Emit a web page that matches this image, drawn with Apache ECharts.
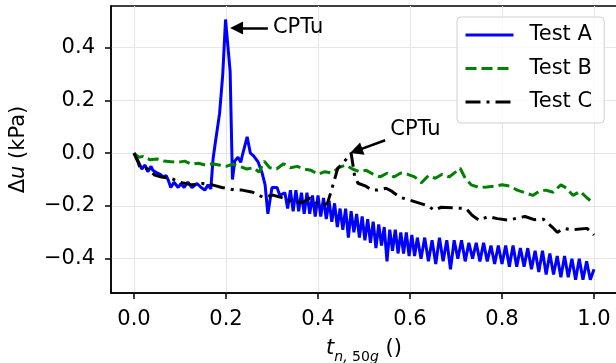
<!DOCTYPE html>
<html>
<head>
<meta charset="utf-8">
<script src="https://cdn.jsdelivr.net/npm/echarts@6/dist/echarts.min.js"></script>
<style>
  html, body { margin: 0; padding: 0; background: #fff; }
  #chart { width: 616px; height: 363px; }
</style>
</head>
<body>
<div id="chart"></div>
<script>
// tick positions
const xTicks = [0, 0.2, 0.4, 0.6, 0.8, 1.0];
const yTicks = [-0.4, -0.2, 0, 0.2, 0.4];

// Test A (blue, solid)
const testA_t = [0, 0.009, 0.017, 0.024, 0.030, 0.037, 0.041, 0.050, 0.057, 0.063, 0.070, 0.074, 0.080, 0.087, 0.096,
  0.102, 0.109, 0.117, 0.126, 0.137, 0.146, 0.154, 0.161, 0.167, 0.172, 0.176, 0.186, 0.193, 0.199, 0.203, 0.209,
  0.214, 0.219, 0.226, 0.232, 0.236, 0.246, 0.253, 0.260, 0.270, 0.278, 0.285, 0.291, 0.300, 0.311, 0.317, 0.328,
  0.334, 0.340, 0.346, 0.352, 0.358, 0.364, 0.370, 0.376, 0.382, 0.388, 0.394, 0.400, 0.406, 0.412, 0.418, 0.424,
  0.430, 0.436, 0.442, 0.448, 0.454, 0.460, 0.466, 0.472, 0.478, 0.484, 0.490, 0.496, 0.502, 0.508, 0.514, 0.520,
  0.526, 0.532, 0.538, 0.544, 0.550, 0.556, 0.562, 0.568, 0.574, 0.580, 0.586, 0.592, 0.598, 0.604, 0.610, 0.616,
  0.624, 0.632, 0.640, 0.648, 0.656, 0.664, 0.672, 0.680, 0.688, 0.696, 0.704, 0.712, 0.720, 0.728, 0.736, 0.744,
  0.752, 0.760, 0.768, 0.776, 0.784, 0.792, 0.800, 0.808, 0.816, 0.824, 0.832, 0.840, 0.848, 0.856, 0.864, 0.872,
  0.880, 0.888, 0.896, 0.904, 0.912, 0.920, 0.928, 0.936, 0.944, 0.952, 0.960, 0.968, 0.976, 0.984, 0.992, 1.000];
const testA_du = [0, -0.030, -0.060, -0.045, -0.070, -0.050, -0.065, -0.075, -0.080, -0.090, -0.085, -0.100, -0.130, -0.110, -0.130,
  -0.115, -0.130, -0.110, -0.130, -0.115, -0.130, -0.140, -0.120, -0.135, -0.020, 0.030, 0.150, 0.300, 0.507, 0.505, 0.310,
  -0.100, -0.030, -0.015, -0.035, -0.005, 0.062, 0.000, -0.010, -0.034, -0.072, -0.120, -0.230, -0.130, -0.130, -0.160, -0.150,
  -0.21, -0.14, -0.22, -0.14, -0.22, -0.15, -0.23, -0.15, -0.23, -0.16, -0.24, -0.16, -0.24, -0.17, -0.25, -0.18,
  -0.26, -0.19, -0.28, -0.21, -0.29, -0.21, -0.32, -0.22, -0.30, -0.23, -0.32, -0.24, -0.33, -0.25, -0.34, -0.26,
  -0.36, -0.27, -0.35, -0.28, -0.41, -0.29, -0.37, -0.29, -0.38, -0.30, -0.38, -0.30, -0.39, -0.31, -0.39, -0.32,
  -0.40, -0.32, -0.41, -0.33, -0.42, -0.32, -0.41, -0.33, -0.44, -0.33, -0.40, -0.33, -0.41, -0.34, -0.40, -0.34,
  -0.41, -0.34, -0.41, -0.35, -0.42, -0.35, -0.42, -0.35, -0.43, -0.35, -0.43, -0.36, -0.43, -0.36, -0.44, -0.37,
  -0.45, -0.37, -0.46, -0.38, -0.46, -0.39, -0.47, -0.39, -0.47, -0.40, -0.48, -0.40, -0.48, -0.41, -0.48, -0.44];

// Test B (green, dashed)
const testB_t = [0, 0.010, 0.020, 0.035, 0.050, 0.065, 0.080, 0.095, 0.110, 0.125, 0.140, 0.155, 0.170, 0.185, 0.200,
  0.215, 0.230, 0.245, 0.260, 0.272, 0.283, 0.295, 0.310, 0.325, 0.340, 0.355, 0.370, 0.385, 0.400, 0.415, 0.430,
  0.445, 0.460, 0.475, 0.490, 0.505, 0.520, 0.535, 0.550, 0.565, 0.580, 0.595, 0.610, 0.625, 0.640, 0.655, 0.670,
  0.685, 0.700, 0.709, 0.720, 0.733, 0.750, 0.767, 0.783, 0.800, 0.817, 0.833, 0.850, 0.867, 0.880, 0.895, 0.911,
  0.928, 0.941, 0.954, 0.970, 0.985, 1.000];
const testB_du = [0, -0.015, -0.012, -0.025, -0.022, -0.030, -0.032, -0.035, -0.030, -0.042, -0.038, -0.045, -0.040, -0.045, -0.050,
  -0.042, -0.050, -0.060, -0.055, -0.072, -0.030, -0.055, -0.060, -0.040, -0.055, -0.050, -0.060, -0.065, -0.080, -0.070, -0.075,
  -0.055, -0.045, -0.060, -0.070, -0.065, -0.080, -0.090, -0.076, -0.090, -0.075, -0.080, -0.090, -0.112, -0.085, -0.095, -0.080,
  -0.090, -0.070, -0.057, -0.095, -0.120, -0.130, -0.128, -0.125, -0.120, -0.125, -0.140, -0.150, -0.160, -0.145, -0.140, -0.148,
  -0.120, -0.133, -0.160, -0.145, -0.170, -0.190];

// Test C (black, dash-dot)
const testC_t = [0, 0.009, 0.013, 0.030, 0.045, 0.060, 0.080, 0.100, 0.126, 0.148, 0.170, 0.191, 0.220, 0.235, 0.258,
  0.280, 0.302, 0.324, 0.346, 0.367, 0.383, 0.404, 0.420, 0.428, 0.443, 0.456, 0.465, 0.472, 0.480, 0.487, 0.504,
  0.517, 0.530, 0.548, 0.561, 0.578, 0.600, 0.622, 0.640, 0.652, 0.668, 0.690, 0.722, 0.735, 0.750, 0.770, 0.790,
  0.815, 0.835, 0.850, 0.870, 0.890, 0.909, 0.920, 0.935, 0.950, 0.985, 1.000];
const testC_du = [0, -0.035, -0.055, -0.060, -0.083, -0.090, -0.095, -0.110, -0.120, -0.115, -0.120, -0.130, -0.140, -0.140, -0.148,
  -0.167, -0.159, -0.170, -0.186, -0.186, -0.170, -0.197, -0.192, -0.148, -0.057, -0.034, -0.015, 0.000, -0.090, -0.114, -0.125,
  -0.140, -0.140, -0.133, -0.145, -0.167, -0.178, -0.190, -0.200, -0.216, -0.205, -0.207, -0.210, -0.235, -0.254, -0.240, -0.248,
  -0.254, -0.245, -0.240, -0.252, -0.250, -0.280, -0.300, -0.285, -0.290, -0.285, -0.310];

const pairs = (t, v) => t.map((x, i) => [x, v[i]]);
const fmt = v => (v < 0 ? '\u2212' : '') + Math.abs(v).toFixed(1);
const font = 'DejaVu Sans';

const chart = echarts.init(document.getElementById('chart'));

const arrowLine = {
  silent: true,
  symbol: ['none', 'triangle'],
  symbolSize: 13,
  label: { show: false },
  itemStyle: { color: '#000' },
  lineStyle: { color: '#000', width: 2.5, type: 'solid' },
  emphasis: { disabled: true }
};
const noteLabel = {
  show: true,
  position: 'right',
  distance: 0,
  color: '#000',
  fontSize: 21,
  fontFamily: font,
  formatter: 'CPTu'
};

chart.setOption({
  animation: false,
  backgroundColor: '#fff',
  textStyle: { fontFamily: font },
  grid: {
    left: 111, top: 6, width: 506, height: 287,
    outerBoundsMode: 'none', containLabel: false,
    show: true, borderColor: '#000', borderWidth: 1.5
  },
  legend: {
    orient: 'vertical',
    left: 457, top: 17,
    padding: [7, 12, 10, 7],
    itemWidth: 48, itemHeight: 22, itemGap: 11.5,
    backgroundColor: 'rgba(255,255,255,0.8)',
    borderColor: '#d0d0d0', borderWidth: 1, borderRadius: 4,
    lineStyle: { width: 3 },
    itemStyle: { opacity: 0 },
    textStyle: { fontSize: 21, color: '#000', fontFamily: font, lineHeight: 22, padding: [0, 0, 0, 11] },
    data: ['Test A', 'Test B', 'Test C']
  },
  xAxis: {
    type: 'value', min: -0.05, max: 1.05,
    name: '{i|t}{s|n,}{r| 50}{s|g}{n| ()}',
    nameLocation: 'middle', nameGap: 44,
    nameTextStyle: {
      color: '#000', fontFamily: font,
      rich: {
        i: { fontSize: 21, fontStyle: 'italic', color: '#000', fontFamily: font, lineHeight: 24 },
        s: { fontSize: 14, fontStyle: 'italic', color: '#000', fontFamily: font, verticalAlign: 'bottom', lineHeight: 14, padding: [0, 0, -3, 0] },
        r: { fontSize: 14, color: '#000', fontFamily: font, verticalAlign: 'bottom', lineHeight: 14, padding: [0, 0, -3, 0] },
        n: { fontSize: 21, color: '#000', fontFamily: font, lineHeight: 24 }
      }
    },
    axisLine: { show: true, onZero: false, lineStyle: { color: '#000', width: 1.5 } },
    axisTick: { show: true, length: 6, customValues: xTicks, lineStyle: { color: '#000', width: 1.5 } },
    axisLabel: { customValues: xTicks, margin: 16, fontSize: 21, color: '#000', fontFamily: font, formatter: fmt },
    splitLine: { show: true, lineStyle: { color: '#e6e6e6', width: 1.2 } }
  },
  yAxis: {
    type: 'value', min: -0.53, max: 0.558,
    name: '{d|\u0394}{i|u}{n| (kPa)}',
    nameLocation: 'middle', nameRotate: 90, nameGap: 82,
    nameTextStyle: {
      color: '#000', fontFamily: font,
      rich: {
        d: { fontSize: 21, color: '#000', fontFamily: font },
        i: { fontSize: 21, fontStyle: 'italic', color: '#000', fontFamily: font },
        n: { fontSize: 21, color: '#000', fontFamily: font }
      }
    },
    axisLine: { show: true, onZero: false, lineStyle: { color: '#000', width: 1.5 } },
    axisTick: { show: true, length: 6, customValues: yTicks, lineStyle: { color: '#000', width: 1.5 } },
    axisLabel: { customValues: yTicks, margin: 16, fontSize: 21, color: '#000', fontFamily: font, formatter: fmt },
    splitLine: { show: true, lineStyle: { color: '#e6e6e6', width: 1.2 } }
  },
  series: [
    {
      name: 'Test A', type: 'line', data: pairs(testA_t, testA_du),
      symbol: 'none', color: '#0000ff',
      lineStyle: { width: 3, color: '#0000ff' },
      markLine: Object.assign({}, arrowLine, { data: [[{ coord: [0.291, 0.475] }, { coord: [0.223, 0.475] }]] }),
      markPoint: { symbol: 'circle', symbolSize: 0, silent: true, label: noteLabel, data: [{ coord: [0.302, 0.477] }] }
    },
    {
      name: 'Test B', type: 'line', data: pairs(testB_t, testB_du),
      symbol: 'none', color: '#008000',
      lineStyle: { width: 3, color: '#008000', type: [11, 5] }
    },
    {
      name: 'Test C', type: 'line', data: pairs(testC_t, testC_du),
      symbol: 'none', color: '#000',
      lineStyle: { width: 3, color: '#000', type: [15, 6, 3, 6] },
      markLine: Object.assign({}, arrowLine, { data: [[{ coord: [0.546, 0.049] }, { coord: [0.483, 0.009] }]] }),
      markPoint: { symbol: 'circle', symbolSize: 0, silent: true, label: noteLabel, data: [{ coord: [0.557, 0.09] }] }
    }
  ]
});
</script>
</body>
</html>
